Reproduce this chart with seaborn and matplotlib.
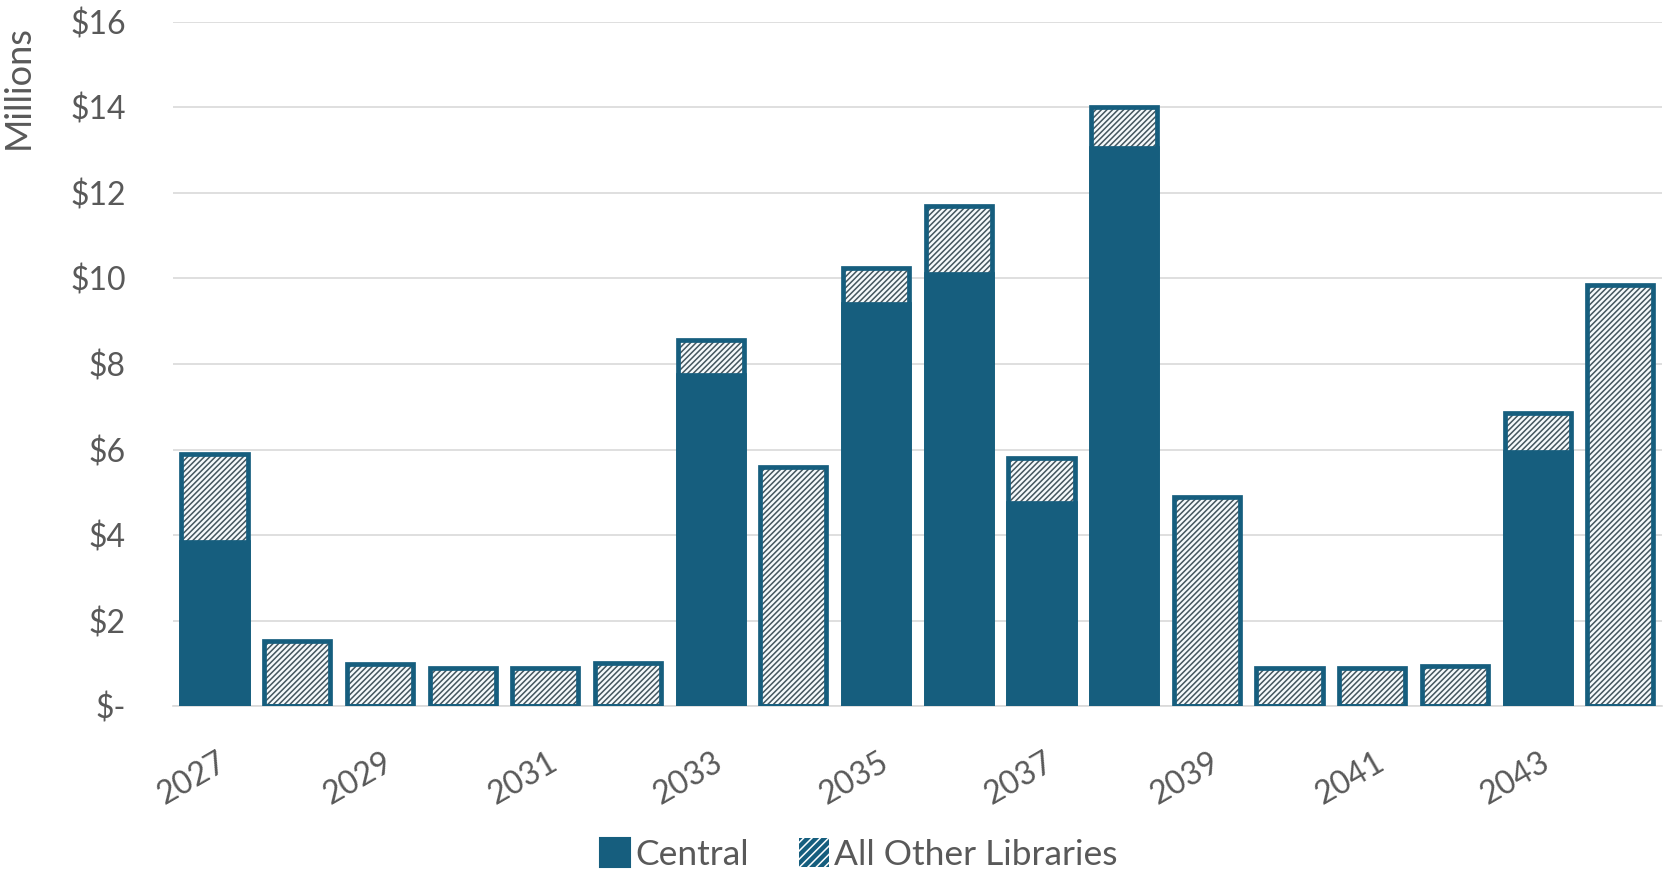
import matplotlib
matplotlib.use("Agg")
import matplotlib.pyplot as plt
import matplotlib.transforms as mtransforms
from matplotlib.patches import Patch
import seaborn as sns
import pandas as pd

years = [str(y) for y in range(2027, 2045)]
central = [3.85, 0, 0, 0, 0, 0, 7.74, 0, 9.4, 10.1, 4.76, 13.05, 0, 0, 0, 0, 5.95, 0]
other = [2.05, 1.52, 0.98, 0.9, 0.9, 1.02, 0.82, 5.6, 0.85, 1.6, 1.05, 0.95, 4.9, 0.9, 0.9, 0.95, 0.9, 9.85]
yticks = [0, 2, 4, 6, 8, 10, 12, 14, 16]
ytick_labels = ["$-", "$2", "$4", "$6", "$8", "$10", "$12", "$14", "$16"]
series_names = ["Central", "All Other Libraries"]

TEAL = "#165E7E"
HATCH = "#44565F"
GRAY = "#595959"

sns.set_theme(style="white")
plt.rcParams["font.family"] = ["Lato", "DejaVu Sans"]
plt.rcParams["hatch.linewidth"] = 1.1

df = pd.DataFrame({"year": years, "central": central, "other": other})
df["total"] = df["central"] + df["other"]

fig = plt.figure(figsize=(16.65, 8.72), dpi=100)
ax = fig.add_axes([0.104, 0.190, 0.894, 0.785])

# hatched layer (full stack height)
sns.barplot(data=df, x="year", y="total", color="#F5FAFC", edgecolor=HATCH,
            linewidth=0, width=0.8, hatch="//////", saturation=1, ax=ax)
# outline of the full stack
sns.barplot(data=df, x="year", y="total", color=TEAL, fill=False,
            linewidth=3.4, width=0.8, saturation=1, ax=ax)
# solid central part
sns.barplot(data=df, x="year", y="central", color=TEAL, edgecolor=TEAL,
            linewidth=3.4, width=0.8, saturation=1, ax=ax)
for p in ax.patches:
    p.set_zorder(3)

ax.set_xlim(-0.5, len(years) - 0.5)
ax.set_ylim(0, 16)
ax.set_yticks(yticks)
ax.set_yticklabels(ytick_labels)
ax.yaxis.grid(True, color="#D9D9D9", linewidth=1.2, zorder=0)
ax.set_axisbelow(True)
for s in ["left", "right", "top"]:
    ax.spines[s].set_visible(False)
ax.spines["bottom"].set_color("#D9D9D9")
ax.spines["bottom"].set_linewidth(1.2)

xt = list(range(0, len(years), 2))
ax.set_xticks(xt)
ax.set_xticklabels([years[i] for i in xt])
ax.tick_params(axis="x", length=0, pad=39, labelsize=23, labelcolor=GRAY)
ax.tick_params(axis="y", length=0, pad=34, labelsize=23, labelcolor=GRAY)
offset = mtransforms.ScaledTranslation(10 / 100, 0, fig.dpi_scale_trans)
for lab in ax.get_xticklabels():
    lab.set_rotation(30)
    lab.set_ha("right")
    lab.set_va("center")
    lab.set_rotation_mode("anchor")
    lab.set_transform(lab.get_transform() + offset)

ax.set_xlabel("")
ax.set_ylabel("Millions", fontsize=26, color=GRAY, loc="top")
ax.yaxis.set_label_coords(-0.093, 0.995)

handles = [Patch(facecolor=TEAL, edgecolor=TEAL, linewidth=1.5),
           Patch(facecolor=TEAL, edgecolor="white", hatch="////", linewidth=0)]
fig.legend(handles, series_names, loc="lower center", bbox_to_anchor=(0.516, -0.035),
           ncol=2, frameon=False, fontsize=25.5, labelcolor=GRAY,
           handlelength=0.85, handleheight=0.85, handletextpad=0.15, columnspacing=1.4)

fig.savefig("out.png", dpi=100)
